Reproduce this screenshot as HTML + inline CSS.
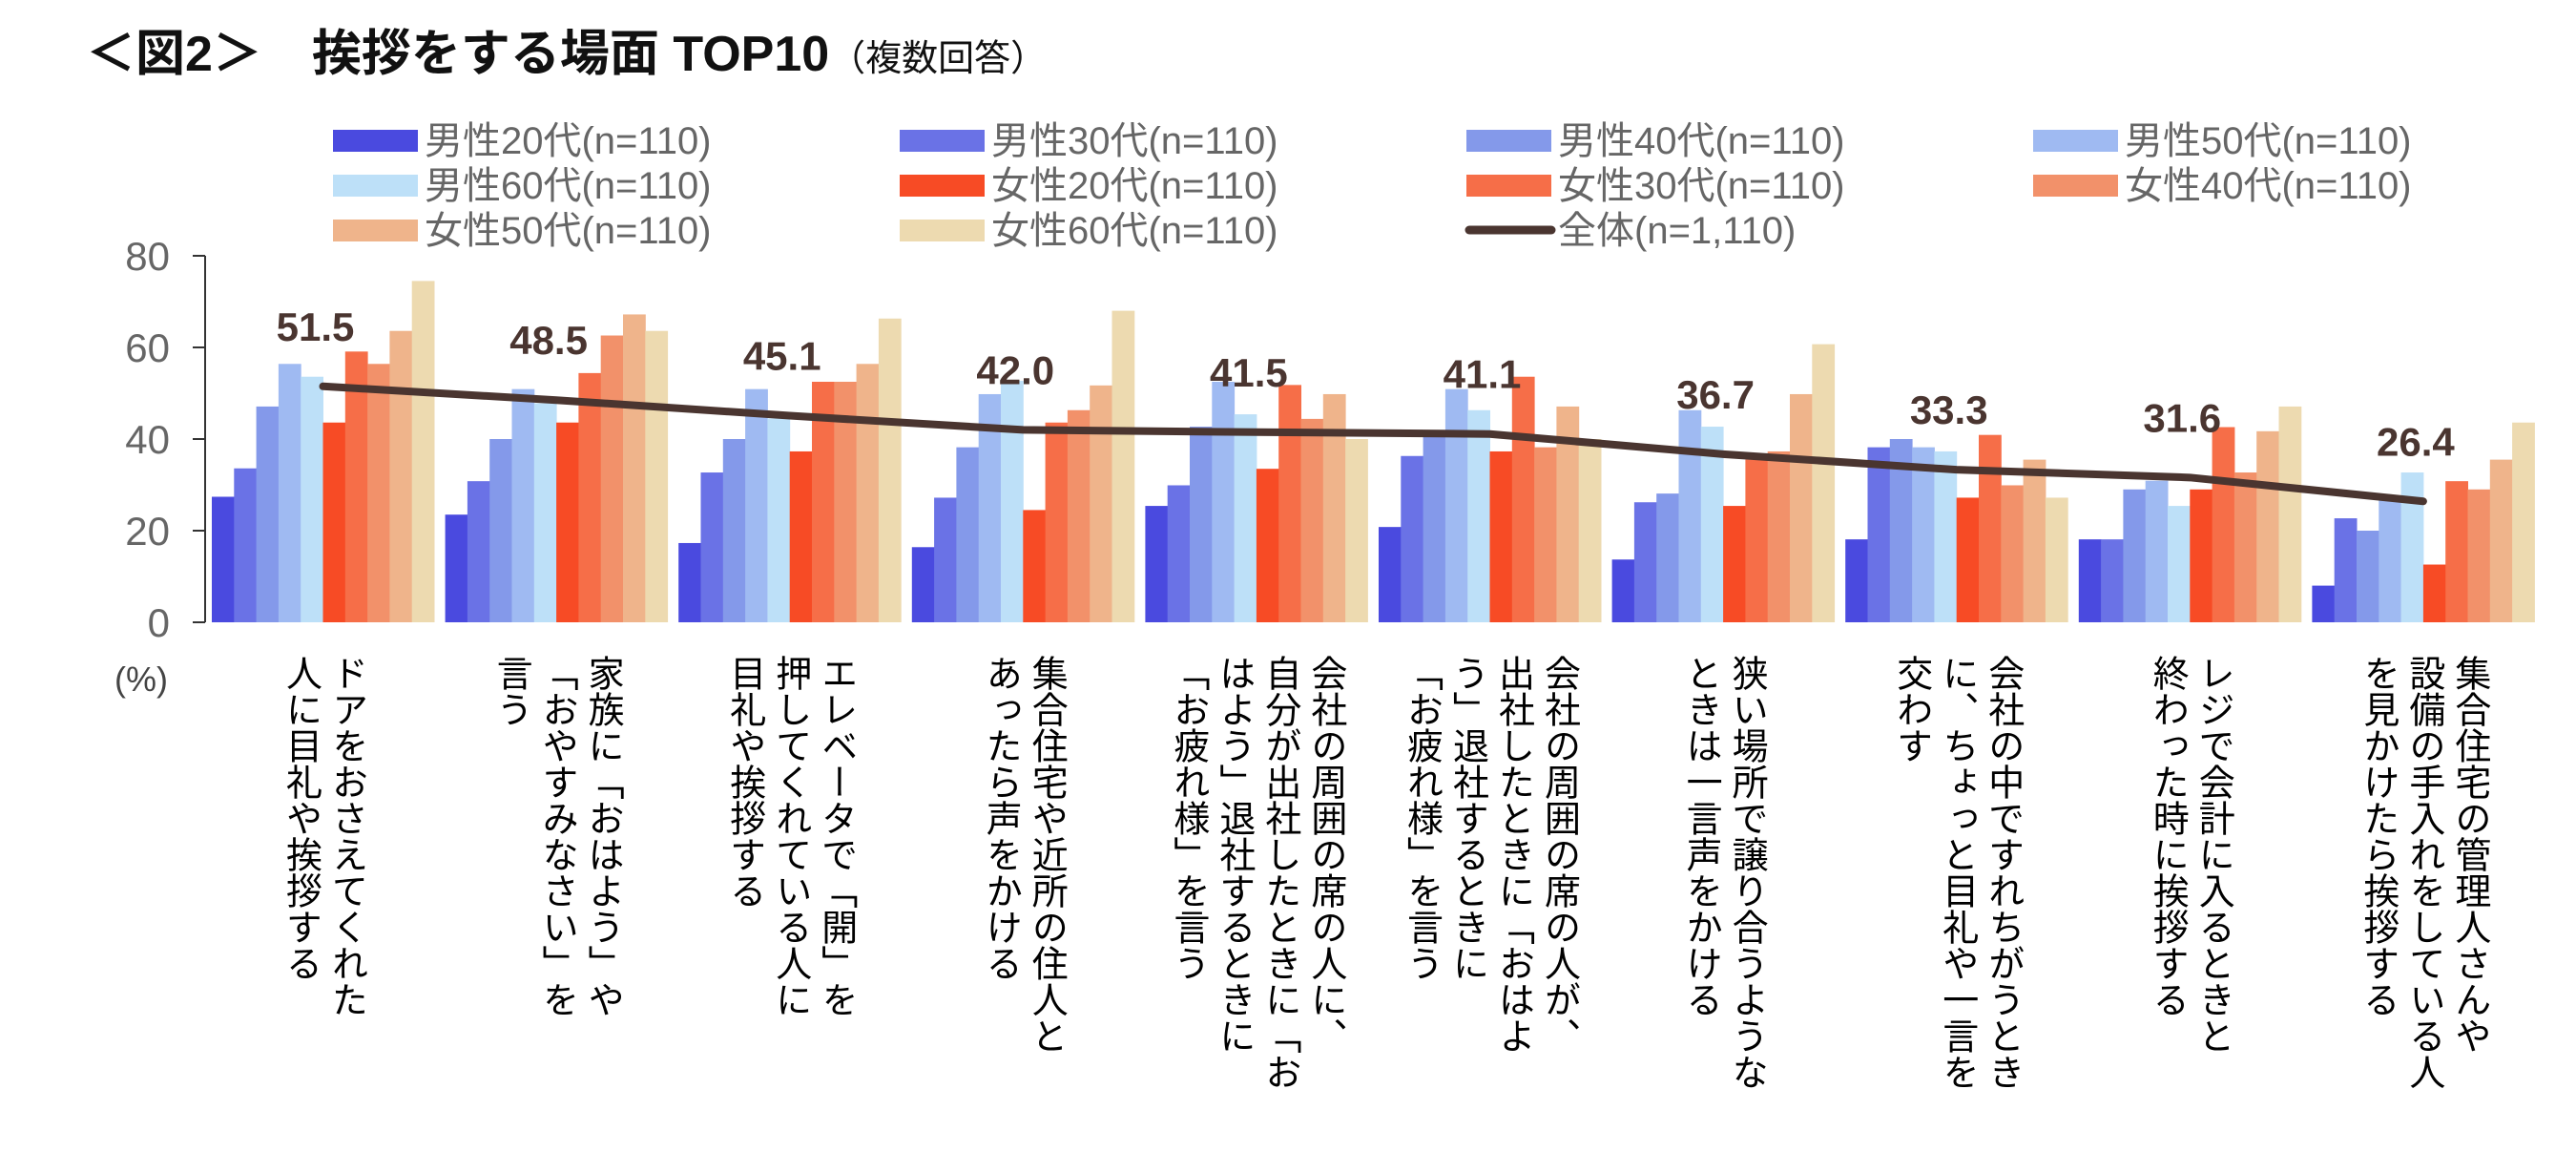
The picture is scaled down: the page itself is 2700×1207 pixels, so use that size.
<!DOCTYPE html>
<html><head><meta charset="utf-8"><style>
body{margin:0;background:#fff;width:2700px;height:1207px;overflow:hidden;font-family:"Liberation Sans","Noto Sans CJK JP",sans-serif;}
.xl{position:absolute;top:686px;writing-mode:vertical-rl;white-space:nowrap;font-size:38px;line-height:48px;color:#000;transform:translateX(-50%);}
</style></head><body>
<svg id="chart" width="2700" height="1207" style="position:absolute;left:0;top:0" xmlns="http://www.w3.org/2000/svg">
<text x="90" y="74" font-size="52" font-weight="bold" fill="#111" font-family="Liberation Sans, Noto Sans CJK JP, sans-serif">＜図2＞　挨拶をする場面 TOP10<tspan font-size="38" font-weight="normal">（複数回答）</tspan></text>
<g id="legend"></g>
<g id="axes"></g>
<g id="bars"></g>
<g id="line"></g>
</svg>
<div id="xlabels"></div>
<script>
const categories=["ドアをおさえてくれた<br>人に目礼や挨拶する","家族に「おはよう」や<br>「おやすみなさい」を<br>言う","エレベータで「開」を<br>押してくれている人に<br>目礼や挨拶する","集合住宅や近所の住人と<br>あったら声をかける","会社の周囲の席の人に、<br>自分が出社したときに「お<br>はよう」退社するときに<br>「お疲れ様」を言う","会社の周囲の席の人が、<br>出社したときに「おはよ<br>う」退社するときに<br>「お疲れ様」を言う","狭い場所で譲り合うような<br>ときは一言声をかける","会社の中ですれちがうとき<br>に、ちょっと目礼や一言を<br>交わす","レジで会計に入るときと<br>終わった時に挨拶する","集合住宅の管理人さんや<br>設備の手入れをしている人<br>を見かけたら挨拶する"];
const seriesNames=["男性20代(n=110)","男性30代(n=110)","男性40代(n=110)","男性50代(n=110)","男性60代(n=110)","女性20代(n=110)","女性30代(n=110)","女性40代(n=110)","女性50代(n=110)","女性60代(n=110)"];
const m20=[27.4,23.5,17.3,16.4,25.4,20.8,13.7,18.1,18.1,8.0];
const m30=[33.6,30.8,32.7,27.2,29.9,36.3,26.2,38.2,18.1,22.7];
const m40=[47.1,40.0,40.0,38.2,42.7,41.8,28.1,40.0,29.0,20.0];
const m50=[56.4,50.9,50.9,49.8,52.5,50.9,46.3,38.2,30.9,27.3];
const m60=[53.6,47.8,44.5,52.7,45.4,46.3,42.7,37.3,25.4,32.7];
const f20=[43.6,43.6,37.3,24.5,33.5,37.3,25.4,27.2,29.0,12.6];
const f30=[59.1,54.4,52.5,43.6,51.8,53.6,35.5,40.9,42.6,30.8];
const f40=[56.4,62.6,52.5,46.3,44.4,38.2,37.3,29.9,32.7,29.0];
const f50=[63.6,67.2,56.4,51.7,49.8,47.1,49.8,35.5,41.7,35.5];
const f60=[74.5,63.6,66.3,68.0,40.0,40.0,60.7,27.2,47.1,43.6];
const totals=[51.5,48.5,45.1,42.0,41.5,41.1,36.7,33.3,31.6,26.4];
const totalLabels=["51.5","48.5","45.1","42.0","41.5","41.1","36.7","33.3","31.6","26.4"];
const yTicks=[0,20,40,60,80];
const series=[m20,m30,m40,m50,m60,f20,f30,f40,f50,f60];
const colors=["#4a4adf","#6a72e6","#8499ea","#9fbaf2","#bde0f8","#f74b25","#f66e48","#f2916a","#efb48b","#eddab0"];
const NS="http://www.w3.org/2000/svg";
const y0=652,yTop=268,x0=222,period=244.6,bw=23.3;
const ys=v=>y0-(v/80)*(y0-yTop);
const gx=i=>x0+i*period;
function mk(tag,attrs,parent){const e=document.createElementNS(NS,tag);for(const k in attrs)e.setAttribute(k,attrs[k]);parent.appendChild(e);return e;}
const axes=document.getElementById('axes');
const yl=mk('line',{x1:215,y1:yTop,x2:215,y2:y0,stroke:'#333','stroke-width':2},axes);


yTicks.forEach(t=>{
 const tk=mk('line',{x1:202,x2:215,y1:ys(t),y2:ys(t),stroke:'#333','stroke-width':2},axes);
 
 
 const tx=mk('text',{x:178,y:ys(t)+15,'text-anchor':'end','font-size':42,fill:'#666'},axes);
 tx.textContent=t;
 
 
});
const unit=mk('text',{x:120,y:724,'font-size':36,fill:'#444'},axes);
unit.textContent='(%)';


const bars=document.getElementById('bars');
series.forEach((s,si)=>{s.forEach((v,i)=>{
 const r=mk('rect',{x:gx(i)+si*bw,y:ys(v),width:bw+0.5,height:y0-ys(v),fill:colors[si]},bars);
 
 
});});
const lg=document.getElementById('line');
const cx=i=>gx(i)+5*bw;
const pts=totals.map((v,i)=>cx(i)+','+ys(v)).join(' ');
const pl=mk('polyline',{points:pts,fill:'none',stroke:'#4a3530','stroke-width':8,'stroke-linejoin':'round','stroke-linecap':'round'},lg);


totals.forEach((v,i)=>{
 const t=mk('text',{x:cx(i)-8,y:ys(v)-48,'text-anchor':'middle','font-size':42,'font-weight':'bold',fill:'#4a3530'},lg);
 t.textContent=totalLabels[i];
 
 
});
const leg=document.getElementById('legend');
const colX=[349,943,1537,2131],rowY=[147,194,241];
seriesNames.forEach((n,k)=>{
 const x=colX[k%4],y=rowY[Math.floor(k/4)];
 const r=mk('rect',{x:x,y:y-11,width:89,height:23,fill:colors[k]},leg);
 
 
 const t=mk('text',{x:x+96,y:y+14,'font-size':40,fill:'#666'},leg);
 t.textContent=n;
 
 
});
const ll=mk('line',{x1:1540,x2:1626,y1:241,y2:241,stroke:'#4a3530','stroke-width':9,'stroke-linecap':'round'},leg);


const lt=mk('text',{x:1633,y:255,'font-size':40,fill:'#666'},leg);
lt.textContent='全体(n=1,110)';


const xl=document.getElementById('xlabels');
categories.forEach((c,i)=>{
 const d=document.createElement('div');
 d.className='xl';
 d.style.left=(gx(i)+5*bw)+'px';
 d.innerHTML=c;
 
 
 xl.appendChild(d);
});
</script>
</body></html>
